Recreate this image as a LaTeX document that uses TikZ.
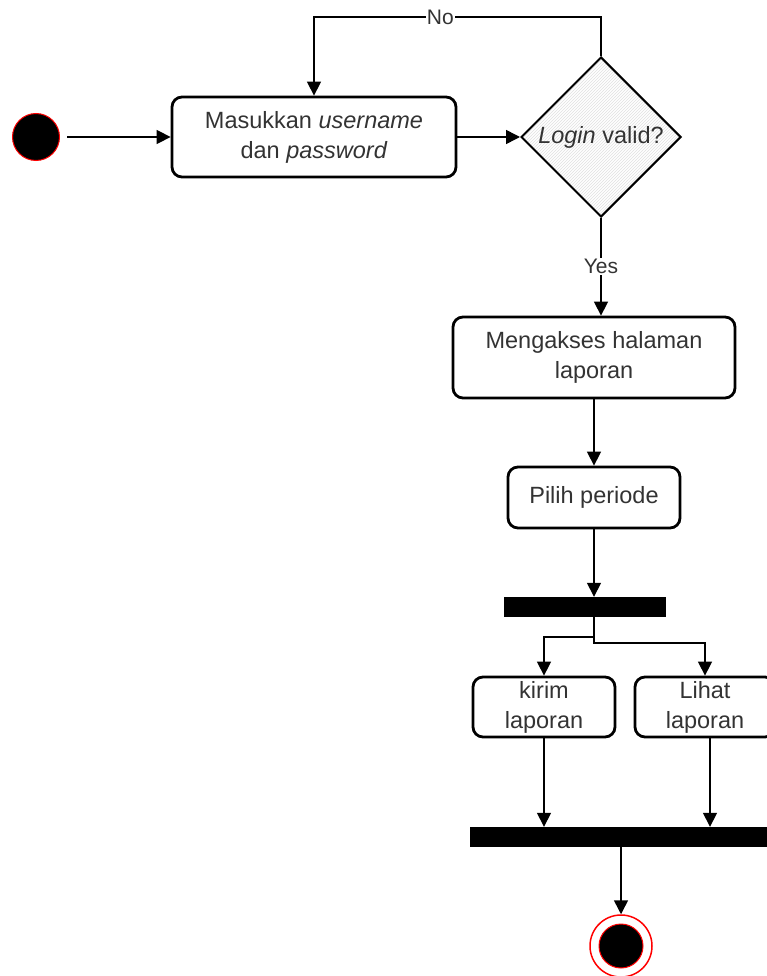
\documentclass[tikz,border=0pt]{standalone}
\usepackage{fontspec}
\setmainfont{Liberation Sans}
\usetikzlibrary{shapes.geometric,arrows.meta,patterns}
\begin{document}
\begin{tikzpicture}[x=1pt,y=-1pt]
% gaya garis dan isian
\tikzstyle{panah} = [line width=1.5pt,-{Triangle[length=14pt,width=14pt]}]
\tikzstyle{aksi} = [draw,rectangle,rounded corners=10pt,line width=2.8pt,align=center,text=black!80,font=\fontsize{23.5}{30}\selectfont]
\tikzstyle{keputusan} = [draw,diamond,aspect=1,inner sep=0pt,minimum width=160pt,minimum height=160pt,line width=2pt,pattern=north east lines,pattern color=black!12,text=black!80,font=\fontsize{23.5}{30}\selectfont]
\tikzstyle{bar} = [fill=black,rectangle,inner sep=0pt,minimum height=20pt]
\tikzstyle{ket} = [fill=white,inner sep=1pt,text=black!80,font=\fontsize{21}{25}\selectfont]
\useasboundingbox (0,0) rectangle (766,976);
% gambar node awal dan aktivitas
\node[circle,fill=black,draw=red,line width=1pt,minimum size=47pt,inner sep=0pt] (mulai) at (36,137) {};
\node[aksi,minimum width=284pt,minimum height=80pt] (masuk) at (314,137) {Masukkan \textit{username}\\dan \textit{password}};
\node[keputusan] (valid) at (601,137) {\textit{Login} valid?};
\node[aksi,minimum width=282pt,minimum height=81pt] (akses) at (594,357.5) {Mengakses halaman\\laporan};
\node[aksi,minimum width=172pt,minimum height=61pt] (pilih) at (594,497.5) {Pilih periode};
% gambar fork dan join
\node[bar,minimum width=162pt] (cabang) at (585,607) {};
\node[aksi,minimum width=142pt,minimum height=60pt] (kirim) at (544,707) {kirim\\laporan};
\node[aksi,minimum width=140pt,minimum height=60pt] (lihat) at (705,707) {Lihat\\laporan};
\node[bar,minimum width=300pt] (gabung) at (620,837) {};
% gambar node akhir
\node[circle,draw=red,line width=1.5pt,minimum size=62pt,inner sep=0pt] (akhir) at (621,946) {};
\fill[black,draw=red,line width=1pt] (akhir) circle (22pt);
% gambar panah
\coordinate (belok) at (601,17);
\draw[panah,shorten <=7pt] (mulai) -- (masuk);
\draw[panah] (masuk) -- (valid);
\draw[panah] (valid.north) -- (belok) -- node[ket,pos=0.56] {No} (belok -| masuk.north) -- (masuk.north);
\draw[panah] (valid.south) -- node[ket] {Yes} (valid.south |- akses.north);
\draw[panah] (akses) -- (pilih);
\draw[panah] (pilih) -- (pilih.south |- cabang.north);
\draw[panah] (pilih.south |- cabang.south) -- ++(0,20) -| (kirim.north);
\draw[panah] (pilih.south |- cabang.south) -- ++(0,26) -| (lihat.north);
\draw[panah] (kirim) -- (kirim.south |- gabung.north);
\draw[panah] ([xshift=5pt]lihat.south) -- ([xshift=5pt]lihat.south |- gabung.north);
\draw[panah] (gabung.south -| akhir) -- (akhir);
\end{tikzpicture}
\end{document}
